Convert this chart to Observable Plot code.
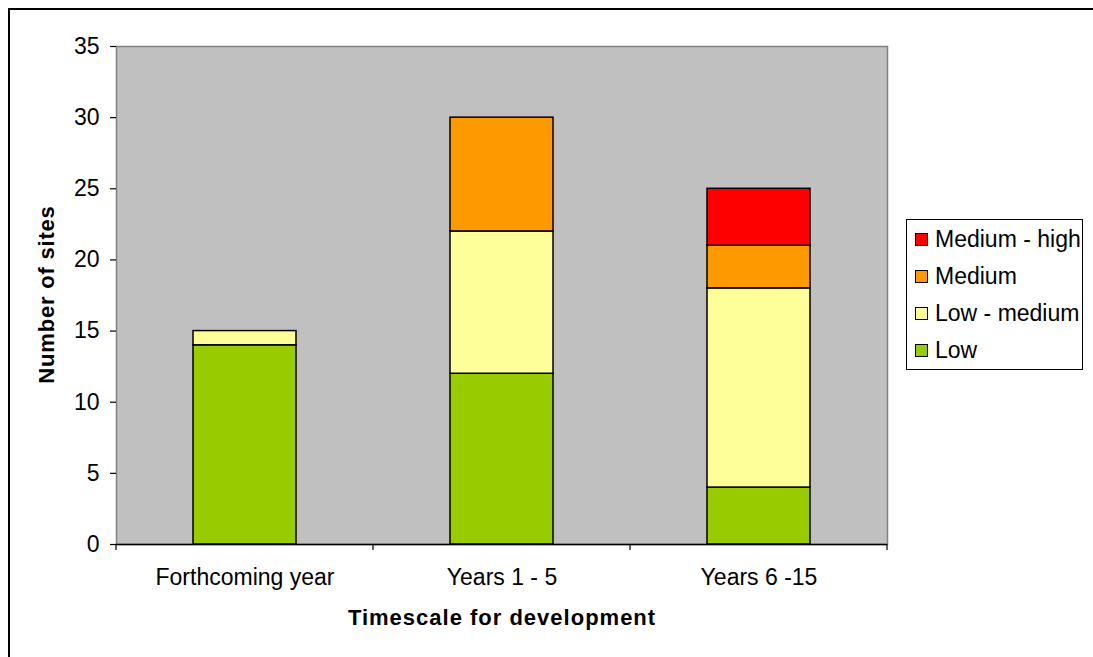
<!DOCTYPE html>
<html>
<head>
<meta charset="utf-8">
<script src="https://cdn.jsdelivr.net/npm/d3@7"></script>
<script src="https://cdn.jsdelivr.net/npm/@observablehq/plot@0.6"></script>
<style>
  body { margin: 0; background: #fff; font-family: "Liberation Sans", Arial, sans-serif; }
  #wrap { position: relative; width: 1093px; height: 657px; overflow: hidden; }
  #border { position: absolute; left: 8px; top: 8px; width: 1200px; height: 800px; border-left: 2px solid #000; border-top: 2px solid #000; }
  #legend { position: absolute; left: 906px; top: 219px; width: 177px; height: 151px; border: 1px solid #000; background: #fff; box-sizing: border-box; padding-top: 1px; }
  .item { display: flex; align-items: center; height: 37px; font-size: 23px; color: #000; }
  .sw { width: 11px; height: 11px; border: 1.5px solid #000; margin-left: 8px; margin-right: 7px; }
</style>
</head>
<body>
<div id="wrap">
  <div id="chart"></div>
  <div id="border"></div>
  <div id="legend"></div>
</div>
<script>
const categories = ["Forthcoming year", "Years 1 - 5", "Years 6 -15"];
const seriesNames = ["Low", "Low - medium", "Medium", "Medium - high"];
const low = [14, 12, 4];
const lowMedium = [1, 10, 14];
const medium = [0, 8, 3];
const mediumHigh = [0, 0, 4];
const colors = ["#99cc00", "#ffff99", "#ff9900", "#ff0000"];
const yTicks = [0, 5, 10, 15, 20, 25, 30, 35];
const xTitle = "Timescale for development";
const yTitle = "Number of sites";

const seriesValues = [low, lowMedium, medium, mediumHigh];
const rows = [];
seriesValues.forEach((vals, si) => {
  vals.forEach((v, ci) => {
    rows.push({category: categories[ci], series: seriesNames[si], value: v});
  });
});

const font = "Liberation Sans, Arial, sans-serif";

const plot = Plot.plot({
  width: 1093,
  height: 657,
  marginLeft: 116,
  marginRight: 206,
  marginTop: 46,
  marginBottom: 113,
  style: {fontFamily: font, fontSize: "23px", color: "#000", background: "transparent"},
  x: {domain: categories, paddingInner: 0.6, paddingOuter: 0.3, label: null},
  y: {domain: [0, 35], label: null},
  color: {domain: seriesNames, range: colors},
  marks: [
    Plot.frame({fill: "#c0c0c0", stroke: "#808080", strokeWidth: 1.5}),
    Plot.barY(rows.filter(d => d.value > 0), Plot.stackY({
      x: "category", y: "value", fill: "series", order: seriesNames,
      stroke: "#000", strokeWidth: 1.5
    })),
    Plot.ruleX([0], {frameAnchor: "left", stroke: "#000", strokeWidth: 1.2}),
    Plot.ruleY([0], {stroke: "#000", strokeWidth: 1.5}),
    Plot.axisY({ticks: yTicks, tickSize: 6, tickPadding: 11, tickFormat: d => d, fontSize: 23, label: null, strokeWidth: 1.2}),
    Plot.axisX({tickSize: 0, tickPadding: 24, fontSize: 23, label: null}),
    Plot.text([xTitle], {frameAnchor: "bottom", dy: 73, lineAnchor: "middle", textAnchor: "middle", fontWeight: "bold", fontSize: 22, fill: "#000"}),
    Plot.text([yTitle], {frameAnchor: "left", dx: -69.5, dy: -1, rotate: -90, lineAnchor: "middle", textAnchor: "middle", fontWeight: "bold", fontSize: 22, fill: "#000"})
  ]
});

// letter spacing for the bold axis titles
d3.select(plot).selectAll("text").filter(function() {
  return this.textContent === xTitle || this.textContent === yTitle;
}).attr("letter-spacing", function() { return this.textContent === xTitle ? 1 : 0.8; });

// category boundary ticks on x axis, from the library's band scale
const xs = plot.scale("x");
const ys = plot.scale("y");
const y0 = ys.apply(0);
const svg = d3.select(plot);
const bounds = [];
categories.forEach((c, i) => {
  const center = xs.apply(c) + xs.bandwidth / 2;
  if (i === 0) bounds.push(center - xs.step / 2);
  bounds.push(center + xs.step / 2);
});
svg.append("g").selectAll("line").data(bounds).join("line")
  .attr("x1", d => d).attr("x2", d => d)
  .attr("y1", y0).attr("y2", y0 + 6)
  .attr("stroke", "#000").attr("stroke-width", 1.2);

document.getElementById("chart").appendChild(plot);

// legend (top-down order reversed)
const legend = document.getElementById("legend");
seriesNames.slice().reverse().forEach((name) => {
  const i = seriesNames.indexOf(name);
  const item = document.createElement("div");
  item.className = "item";
  const sw = document.createElement("div");
  sw.className = "sw";
  sw.style.background = colors[i];
  const t = document.createElement("span");
  t.textContent = name;
  item.appendChild(sw);
  item.appendChild(t);
  legend.appendChild(item);
});
</script>
</body>
</html>
